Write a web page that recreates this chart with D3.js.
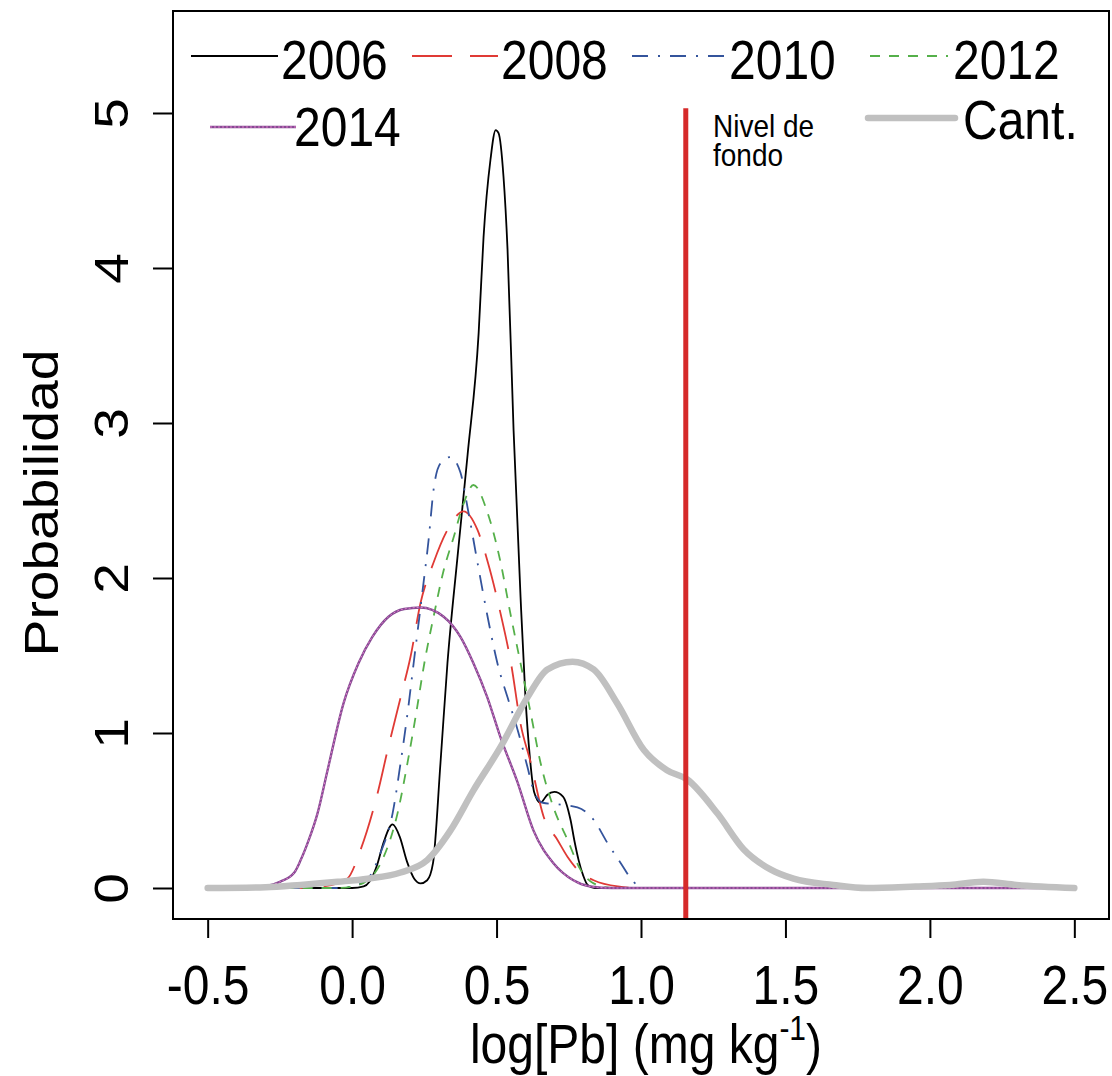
<!DOCTYPE html>
<html>
<head>
<meta charset="utf-8">
<script src="https://cdn.jsdelivr.net/npm/d3@7"></script>
<style>
  body { margin: 0; background: #fff; }
  text { font-family: "Liberation Sans", Arial, sans-serif; fill: #000; }
</style>
</head>
<body>
<div id="wrapper"></div>
<script>
// 1. Data
const xTicks = [-0.5, 0, 0.5, 1, 1.5, 2, 2.5];
const yTicks = [0, 1, 2, 3, 4, 5];
const yearLabels = ["2006", "2008", "2010", "2012", "2014"];
const cantLabel = "Cant.";
const nivelLabel = ["Nivel de", "fondo"];
const nivelFondo = 1.155;
const nivelTop = 5.03;

// [log Pb, density]
const d2006 = [
  [-0.5, 0], [0.0, 0], [0.04, 0.01], [0.06, 0.04], [0.085, 0.14], [0.11, 0.3], [0.14, 0.41],
  [0.165, 0.33], [0.19, 0.17], [0.215, 0.06], [0.237, 0.03], [0.26, 0.05], [0.28, 0.16],
  [0.306, 0.81], [0.33, 1.45], [0.365, 2.14], [0.40, 2.8], [0.438, 3.58], [0.455, 4.2],
  [0.479, 4.7], [0.497, 4.89], [0.507, 4.87], [0.524, 4.59], [0.538, 4.12], [0.559, 2.95],
  [0.583, 1.88], [0.60, 1.23], [0.615, 0.85], [0.63, 0.62], [0.652, 0.55], [0.675, 0.6],
  [0.70, 0.62], [0.73, 0.59], [0.756, 0.44], [0.77, 0.3], [0.784, 0.18], [0.80, 0.08],
  [0.815, 0.02], [0.84, 0], [2.5, 0]
];
const d2008 = [
  [-0.5, 0], [-0.2, 0], [-0.1, 0.01], [-0.05, 0.03], [-0.016, 0.06], [0.03, 0.25], [0.088, 0.61],
  [0.123, 0.89], [0.168, 1.23], [0.202, 1.49], [0.237, 1.84], [0.282, 2.1], [0.33, 2.31],
  [0.386, 2.43], [0.434, 2.31], [0.47, 2.1], [0.514, 1.77], [0.55, 1.45], [0.583, 1.06],
  [0.618, 0.81], [0.663, 0.46], [0.711, 0.31], [0.746, 0.2], [0.79, 0.1], [0.836, 0.05],
  [0.92, 0.01], [1.0, 0], [2.5, 0]
];
const d2010 = [
  [-0.5, 0], [-0.05, 0], [0.0, 0.01], [0.054, 0.06], [0.099, 0.23], [0.14, 0.48], [0.168, 0.81],
  [0.192, 1.13], [0.213, 1.45], [0.244, 1.92], [0.265, 2.25], [0.282, 2.57], [0.306, 2.74],
  [0.34, 2.78], [0.375, 2.68], [0.403, 2.42], [0.434, 2.1], [0.469, 1.75], [0.503, 1.45],
  [0.538, 1.23], [0.573, 1.02], [0.607, 0.78], [0.628, 0.63], [0.66, 0.55], [0.711, 0.54],
  [0.78, 0.52], [0.836, 0.44], [0.884, 0.29], [0.93, 0.16], [0.974, 0.04], [1.01, 0], [2.5, 0]
];
const d2012 = [
  [-0.5, 0], [-0.05, 0], [0.0, 0.01], [0.054, 0.05], [0.109, 0.2], [0.157, 0.48], [0.192, 0.81],
  [0.222, 1.13], [0.25, 1.45], [0.282, 1.75], [0.317, 2.05], [0.351, 2.26], [0.386, 2.48],
  [0.42, 2.6], [0.469, 2.42], [0.514, 2.1], [0.548, 1.77], [0.583, 1.45], [0.618, 1.13],
  [0.652, 0.81], [0.697, 0.52], [0.746, 0.31], [0.79, 0.12], [0.836, 0.03], [0.9, 0], [2.5, 0]
];
const d2014 = [
  [-0.5, 0], [-0.35, 0], [-0.3, 0.01], [-0.25, 0.04], [-0.2, 0.1], [-0.178, 0.18], [-0.15, 0.31],
  [-0.12, 0.48], [-0.085, 0.76], [-0.03, 1.19], [0.022, 1.45], [0.07, 1.62], [0.126, 1.75],
  [0.18, 1.8], [0.237, 1.81], [0.317, 1.75], [0.375, 1.62], [0.42, 1.45], [0.468, 1.23],
  [0.514, 0.97], [0.573, 0.68], [0.628, 0.37], [0.697, 0.16], [0.766, 0.05], [0.825, 0.01],
  [0.9, 0], [2.5, 0]
];
const dCant = [
  [-0.5, 0], [-0.3, 0.005], [-0.178, 0.02], [-0.05, 0.04], [0.054, 0.06], [0.168, 0.1],
  [0.26, 0.18], [0.34, 0.37], [0.42, 0.63], [0.514, 0.91], [0.607, 1.23], [0.676, 1.41],
  [0.763, 1.46], [0.836, 1.41], [0.918, 1.19], [1.01, 0.89], [1.09, 0.76], [1.16, 0.7],
  [1.265, 0.48], [1.355, 0.25], [1.448, 0.12], [1.528, 0.06], [1.666, 0.02], [1.78, 0],
  [1.95, 0.01], [2.07, 0.02], [2.185, 0.04], [2.30, 0.02], [2.5, 0]
];

function drawChart() {
  // 2. Dimensions
  const dimensions = {
    width: 1112,
    height: 1076,
    margin: { top: 11, right: 3, bottom: 157, left: 173 },
  };
  dimensions.boundedWidth = dimensions.width - dimensions.margin.left - dimensions.margin.right;
  dimensions.boundedHeight = dimensions.height - dimensions.margin.top - dimensions.margin.bottom;

  const S = 1.15; // the picture's text is stretched vertically
  const fontSize = 48;

  // 3. Canvas
  const wrapper = d3.select("#wrapper")
    .append("svg")
    .attr("width", dimensions.width)
    .attr("height", dimensions.height);

  const bounds = wrapper.append("g")
    .attr("transform", `translate(${dimensions.margin.left},${dimensions.margin.top})`);

  // 4. Scales (R style: 4% padding around the data range)
  const xScale = d3.scaleLinear()
    .domain([-0.62, 2.62])
    .range([0, dimensions.boundedWidth]);
  const yScale = d3.scaleLinear()
    .domain([-0.2, 5.658])
    .range([dimensions.boundedHeight, 0]);

  const lineGenerator = d3.line()
    .x(d => xScale(d[0]))
    .y(d => yScale(d[1]))
    .curve(d3.curveMonotoneX);

  // 5. Curves
  const series = [
    { data: d2006, color: "#000000", width: 1.8, dash: null },
    { data: d2008, color: "#e03a35", width: 1.8, dash: "40,18" },
    { data: d2010, color: "#34549c", width: 1.8, dash: "16,10,2,10" },
    { data: d2012, color: "#55b04a", width: 1.8, dash: "10,9" },
    { data: d2014, color: "#874a93", width: 2.4, dash: null, dots: "#e07ccc" },
    { data: dCant, color: "#c0c0c0", width: 6.5, dash: null, cap: "round" },
  ];

  series.forEach(s => {
    bounds.append("path")
      .attr("d", lineGenerator(s.data))
      .attr("fill", "none")
      .attr("stroke", s.color)
      .attr("stroke-width", s.width)
      .attr("stroke-linecap", s.cap || "butt")
      .attr("stroke-dasharray", s.dash);
    if (s.dots) {
      bounds.append("path")
        .attr("d", lineGenerator(s.data))
        .attr("fill", "none")
        .attr("stroke", s.dots)
        .attr("stroke-width", 1)
        .attr("stroke-dasharray", "2,2");
    }
  });

  // background level line
  bounds.append("line")
    .attr("x1", xScale(nivelFondo))
    .attr("x2", xScale(nivelFondo))
    .attr("y1", yScale(-0.2))
    .attr("y2", yScale(nivelTop))
    .attr("stroke", "#d62a2a")
    .attr("stroke-width", 5);

  // 6. Peripherals
  bounds.append("rect")
    .attr("width", dimensions.boundedWidth)
    .attr("height", dimensions.boundedHeight)
    .attr("fill", "none")
    .attr("stroke", "#000")
    .attr("stroke-width", 2);

  const xAxis = bounds.append("g")
    .attr("transform", `translate(0,${dimensions.boundedHeight})`)
    .call(d3.axisBottom(xScale).tickValues(xTicks).tickSize(19).tickSizeOuter(0)
      .tickFormat(d => d.toFixed(1)));
  xAxis.select(".domain").remove();
  xAxis.selectAll(".tick line").attr("stroke", "#000").attr("stroke-width", 2);
  xAxis.selectAll(".tick text")
    .attr("y", null).attr("dy", null)
    .attr("transform", `translate(0,85) scale(1,${S})`)
    .attr("font-size", fontSize)
    .attr("font-family", null)
    .attr("fill", "#000");

  const yAxis = bounds.append("g")
    .call(d3.axisLeft(yScale).tickValues(yTicks).tickSize(20).tickSizeOuter(0)
      .tickFormat(d3.format("d")));
  yAxis.select(".domain").remove();
  yAxis.selectAll(".tick line").attr("stroke", "#000").attr("stroke-width", 2);
  yAxis.selectAll(".tick text")
    .attr("x", null).attr("dy", null)
    .attr("text-anchor", "middle")
    .attr("transform", `translate(-45,0) scale(1,${S}) rotate(-90)`)
    .attr("font-size", fontSize)
    .attr("font-family", null)
    .attr("fill", "#000");

  // axis titles
  const xTitle = wrapper.append("text")
    .attr("transform", `translate(646,1063) scale(1,${S})`)
    .attr("text-anchor", "middle")
    .attr("font-size", fontSize);
  xTitle.append("tspan").text("log[Pb] (mg kg");
  xTitle.append("tspan").attr("font-size", 30).attr("dy", -20).text("-1");
  xTitle.append("tspan").attr("dy", 20).text(")");

  wrapper.append("text")
    .attr("transform", `translate(58,503) scale(1,${S}) rotate(-90)`)
    .attr("text-anchor", "middle")
    .attr("font-size", fontSize)
    .text("Probabilidad");

  // legend
  const legendItems = [
    { label: yearLabels[0], s: series[0], x0: 191, x1: 278, ly: 56, tx: 281, ty: 79 },
    { label: yearLabels[1], s: series[1], x0: 412, x1: 498, ly: 56, tx: 501, ty: 79 },
    { label: yearLabels[2], s: series[2], x0: 632, x1: 726, ly: 56, tx: 729, ty: 79 },
    { label: yearLabels[3], s: series[3], x0: 870, x1: 948, ly: 56, tx: 953, ty: 79 },
    { label: yearLabels[4], s: series[4], x0: 210, x1: 296, ly: 127, tx: 294, ty: 146 },
    { label: cantLabel, s: series[5], x0: 868, x1: 955, ly: 118, tx: 963, ty: 139 },
  ];
  const legend = wrapper.append("g");
  legendItems.forEach(item => {
    legend.append("line")
      .attr("x1", item.x0).attr("x2", item.x1)
      .attr("y1", item.ly).attr("y2", item.ly)
      .attr("stroke", item.s.color)
      .attr("stroke-width", item.s.width)
      .attr("stroke-linecap", item.s.cap || "butt")
      .attr("stroke-dasharray", item.s.dash);
    if (item.s.dots) {
      legend.append("line")
        .attr("x1", item.x0).attr("x2", item.x1)
        .attr("y1", item.ly).attr("y2", item.ly)
        .attr("stroke", item.s.dots)
        .attr("stroke-width", 1)
        .attr("stroke-dasharray", "2,2");
    }
    legend.append("text")
      .attr("transform", `translate(${item.tx},${item.ty}) scale(1,${S})`)
      .attr("font-size", fontSize)
      .text(item.label);
  });

  nivelLabel.forEach((t, i) => {
    wrapper.append("text")
      .attr("transform", `translate(713,${137 + i * 29}) scale(1,${S})`)
      .attr("font-size", 28)
      .text(t);
  });
}

drawChart();
</script>
</body>
</html>
